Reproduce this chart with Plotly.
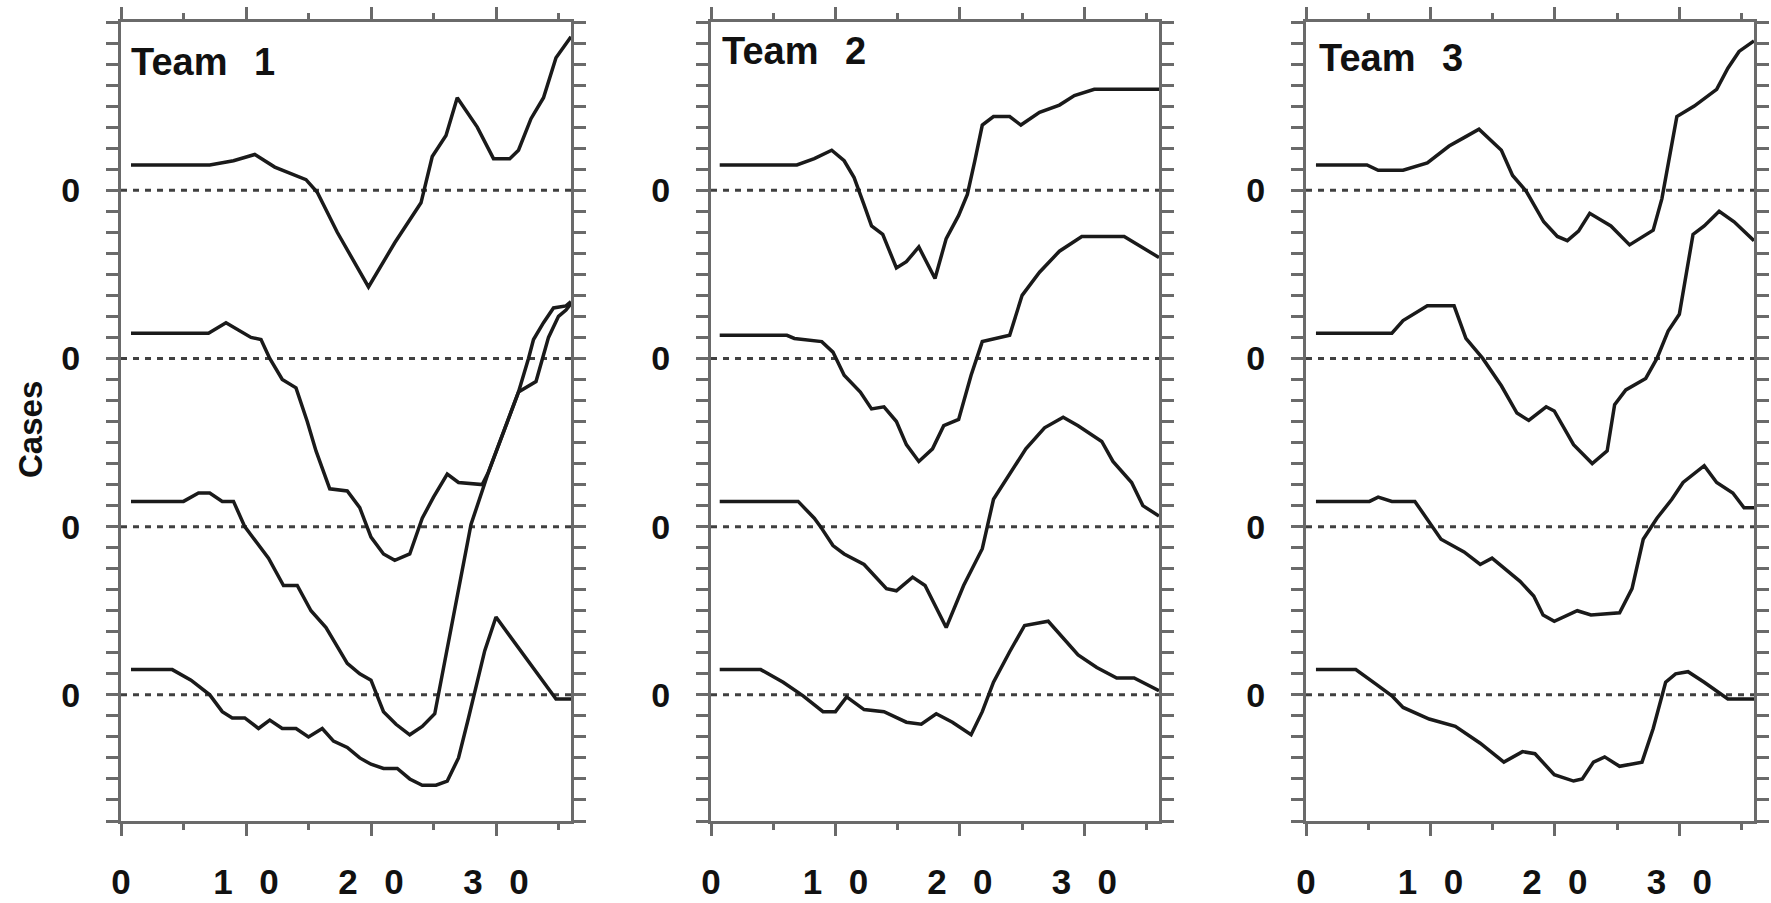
import plotly.graph_objects as go

# ---------------- data ----------------
panel_titles = ["Team\u2002\u20091", "Team\u2002\u20092", "Team\u2002\u20093"]
baselines = [30, 22, 14, 6]          # vertical offsets of the four stacked curves
x_tick_vals = [0, 10, 20, 30]
x_tick_text = ["0", "1\u00a0\u00a0\u20090", "2\u00a0\u00a0\u20090", "3\u00a0\u00a0\u20090"]
y_tick_text = "0"
x_range = [0, 36]
y_range = [0, 38]

# Team 1
t1_c1_x = [0.8, 7.1, 9.0, 10.7, 12.3, 13.9, 14.8, 15.7, 17.3, 19.8, 21.9, 24.0, 24.9, 26.0, 26.9, 28.5, 29.8, 31.1, 31.8, 32.8, 33.8, 34.8, 36.0]
t1_c1_y = [1.2, 1.2, 1.4, 1.7, 1.1, 0.7, 0.5, -0.1, -2.0, -4.6, -2.5, -0.6, 1.6, 2.6, 4.4, 3.0, 1.5, 1.5, 1.9, 3.4, 4.4, 6.3, 7.3]
t1_c2_x = [0.8, 7.0, 8.4, 9.3, 10.4, 11.2, 11.9, 12.9, 14.0, 14.9, 15.6, 16.7, 18.1, 19.1, 20.0, 21.0, 21.9, 23.1, 24.1, 25.0, 26.1, 27.0, 28.9, 29.4, 31.8, 33.2, 33.6, 34.2, 35.0, 35.6, 36.0]
t1_c2_y = [1.2, 1.2, 1.7, 1.4, 1.0, 0.9, 0.0, -1.0, -1.4, -3.0, -4.4, -6.2, -6.3, -7.1, -8.5, -9.3, -9.6, -9.3, -7.6, -6.6, -5.5, -5.9, -6.0, -5.4, -1.6, -1.1, -0.2, 1.0, 2.0, 2.3, 2.6]
t1_c3_x = [0.8, 5.0, 6.2, 7.1, 8.1, 9.0, 9.9, 11.8, 13.0, 14.1, 15.2, 16.4, 17.2, 18.1, 19.1, 20.0, 21.0, 22.0, 23.1, 24.1, 25.1, 28.0, 29.4, 31.8, 32.6, 33.0, 33.8, 34.6, 35.6, 36.0]
t1_c3_y = [1.2, 1.2, 1.6, 1.6, 1.2, 1.2, 0.0, -1.5, -2.8, -2.8, -4.0, -4.8, -5.6, -6.5, -7.0, -7.3, -8.8, -9.4, -9.9, -9.5, -8.9, 0.1, 2.6, 6.4, 8.0, 8.9, 9.7, 10.4, 10.5, 10.7]
t1_c4_x = [0.8, 4.1, 5.6, 7.1, 8.1, 8.9, 9.9, 11.0, 11.9, 12.9, 14.0, 15.0, 16.1, 17.0, 18.1, 19.1, 20.0, 21.0, 22.1, 23.1, 24.1, 25.2, 26.1, 27.0, 27.8, 29.1, 30.0, 34.8, 36.0]
t1_c4_y = [1.2, 1.2, 0.7, 0.0, -0.8, -1.1, -1.1, -1.6, -1.2, -1.6, -1.6, -2.0, -1.6, -2.2, -2.5, -3.0, -3.3, -3.5, -3.5, -4.0, -4.3, -4.3, -4.1, -3.0, -1.1, 2.1, 3.7, -0.2, -0.2]

# Team 2
t2_c1_x = [0.7, 6.9, 8.3, 9.7, 10.7, 11.5, 12.3, 12.9, 13.8, 14.9, 15.7, 16.7, 18.0, 18.9, 19.9, 20.6, 21.2, 21.8, 22.7, 24.0, 24.9, 26.4, 28.0, 29.2, 30.8, 36.0]
t2_c1_y = [1.2, 1.2, 1.5, 1.9, 1.4, 0.6, -0.7, -1.7, -2.1, -3.7, -3.4, -2.7, -4.2, -2.3, -1.2, -0.2, 1.4, 3.1, 3.5, 3.5, 3.1, 3.7, 4.05, 4.5, 4.8, 4.8]
t2_c2_x = [0.7, 6.1, 6.7, 8.9, 9.8, 10.7, 12.0, 12.9, 13.9, 14.9, 15.7, 16.7, 17.8, 18.7, 19.9, 20.9, 21.8, 24.0, 25.0, 26.4, 28.0, 29.8, 33.2, 36.0]
t2_c2_y = [1.1, 1.1, 0.95, 0.8, 0.3, -0.8, -1.6, -2.4, -2.3, -3.0, -4.1, -4.9, -4.3, -3.2, -2.9, -0.8, 0.8, 1.1, 3.0, 4.1, 5.1, 5.8, 5.8, 4.8]
t2_c3_x = [0.7, 7.0, 8.3, 8.8, 9.8, 10.7, 12.3, 14.1, 14.9, 16.2, 17.2, 18.9, 20.3, 21.8, 22.7, 24.3, 25.3, 26.8, 28.3, 29.5, 31.4, 32.3, 33.8, 34.7, 36.0]
t2_c3_y = [1.2, 1.2, 0.4, 0.0, -0.9, -1.3, -1.8, -2.95, -3.05, -2.4, -2.8, -4.8, -2.8, -1.05, 1.3, 2.8, 3.7, 4.7, 5.2, 4.8, 4.05, 3.1, 2.1, 1.0, 0.5]
t2_c4_x = [0.7, 4.0, 5.8, 7.4, 9.0, 10.0, 10.9, 12.3, 13.9, 15.7, 16.9, 18.1, 19.4, 20.9, 21.8, 22.7, 24.0, 25.2, 27.1, 29.5, 31.0, 32.6, 34.0, 36.0]
t2_c4_y = [1.2, 1.2, 0.6, -0.05, -0.8, -0.8, -0.1, -0.7, -0.8, -1.3, -1.4, -0.9, -1.3, -1.9, -0.8, 0.6, 2.05, 3.3, 3.5, 1.9, 1.3, 0.8, 0.8, 0.2]

# Team 3
t3_c1_x = [0.8, 4.9, 5.8, 7.8, 9.75, 11.5, 12.7, 13.9, 15.7, 16.6, 17.7, 19.1, 20.2, 21.0, 21.9, 22.8, 24.5, 26.0, 27.9, 28.6, 29.8, 31.2, 33.0, 33.9, 34.8, 36.0]
t3_c1_y = [1.2, 1.2, 0.95, 0.95, 1.3, 2.1, 2.5, 2.9, 1.9, 0.7, -0.05, -1.5, -2.2, -2.4, -1.95, -1.1, -1.7, -2.6, -1.9, -0.4, 3.5, 4.0, 4.8, 5.8, 6.6, 7.1]
t3_c2_x = [0.8, 6.9, 7.8, 9.75, 11.9, 12.85, 14.2, 15.7, 16.95, 17.9, 19.3, 19.95, 21.5, 23.0, 24.2, 24.8, 25.7, 27.3, 28.2, 29.1, 30.0, 31.1, 32.0, 33.2, 34.4, 36.0]
t3_c2_y = [1.2, 1.2, 1.8, 2.5, 2.5, 0.95, 0.0, -1.3, -2.6, -2.95, -2.3, -2.5, -4.1, -5.0, -4.4, -2.2, -1.5, -0.95, 0.0, 1.3, 2.1, 5.9, 6.3, 7.0, 6.5, 5.6]
t3_c3_x = [0.8, 5.1, 5.8, 6.9, 8.75, 9.9, 10.85, 12.7, 14.0, 14.95, 17.2, 18.3, 19.05, 19.95, 21.8, 22.9, 25.2, 26.2, 27.1, 28.2, 29.4, 30.3, 32.0, 33.0, 34.3, 35.2, 36.0]
t3_c3_y = [1.2, 1.2, 1.4, 1.2, 1.2, 0.2, -0.6, -1.2, -1.8, -1.5, -2.6, -3.3, -4.2, -4.5, -4.0, -4.2, -4.1, -2.95, -0.6, 0.4, 1.3, 2.1, 2.9, 2.1, 1.6, 0.9, 0.9]
t3_c4_x = [0.8, 4.0, 5.65, 6.9, 7.8, 9.9, 12.0, 14.0, 15.9, 17.4, 18.4, 19.95, 21.5, 22.2, 23.1, 24.0, 25.2, 27.0, 27.9, 28.9, 29.7, 30.7, 32.0, 33.9, 36.0]
t3_c4_y = [1.2, 1.2, 0.5, -0.05, -0.6, -1.15, -1.5, -2.3, -3.2, -2.7, -2.8, -3.8, -4.1, -4.0, -3.2, -2.95, -3.4, -3.2, -1.6, 0.6, 1.0, 1.1, 0.6, -0.2, -0.2]

panels = [
    [(t1_c1_x, t1_c1_y), (t1_c2_x, t1_c2_y), (t1_c3_x, t1_c3_y), (t1_c4_x, t1_c4_y)],
    [(t2_c1_x, t2_c1_y), (t2_c2_x, t2_c2_y), (t2_c3_x, t2_c3_y), (t2_c4_x, t2_c4_y)],
    [(t3_c1_x, t3_c1_y), (t3_c2_x, t3_c2_y), (t3_c3_x, t3_c3_y), (t3_c4_x, t3_c4_y)],
]

# ---------------- figure ----------------
W, H = 1771, 903
FONT = "Liberation Sans, Arial, Helvetica, sans-serif"
AXIS_COLOR = "#6a6a6a"
LINE_COLOR = "#1a1a1a"

x_domains = [[121 / W, 571 / W], [711 / W, 1159 / W], [1306 / W, 1754 / W]]
title_pos = [0.6, 0.76, 0.92]
title_y = [37.2, 37.7, 37.4]

fig = go.Figure()
layout = dict(
    width=W, height=H,
    margin=dict(l=0, r=0, t=22, b=82, autoexpand=False),
    paper_bgcolor="white", plot_bgcolor="white",
    showlegend=False,
    annotations=[],
)

for i, curves in enumerate(panels):
    sfx = "" if i == 0 else str(i + 1)
    xa, ya = "x" + sfx, "y" + sfx
    # dotted zero lines
    for b in baselines:
        fig.add_trace(go.Scatter(
            x=x_range, y=[b, b], xaxis=xa, yaxis=ya, mode="lines",
            line=dict(color="#404040", width=3, dash="6px,6px"),
            hoverinfo="skip"))
    # stacked curves
    for b, (cx, cy) in zip(baselines, curves):
        fig.add_trace(go.Scatter(
            x=cx, y=[b + v for v in cy], xaxis=xa, yaxis=ya, mode="lines",
            line=dict(color=LINE_COLOR, width=3.5)))

    layout["xaxis" + sfx] = dict(
        domain=x_domains[i], anchor=ya, range=x_range, automargin=False,
        showline=True, linecolor=AXIS_COLOR, linewidth=3, mirror="ticks",
        showgrid=False, zeroline=False,
        tickmode="array", tickvals=x_tick_vals, ticktext=x_tick_text,
        ticks="outside", ticklen=12, tickwidth=2.5, tickcolor=AXIS_COLOR,
        ticklabelstandoff=16,
        minor=dict(tickmode="linear", tick0=0, dtick=5, ticks="outside",
                   ticklen=6, tickwidth=2.5, tickcolor=AXIS_COLOR),
        tickfont=dict(family=FONT, size=35, color="#111111", weight="bold"),
    )
    layout["yaxis" + sfx] = dict(
        domain=[0, 1], anchor=xa, range=y_range, automargin=False,
        showline=True, linecolor=AXIS_COLOR, linewidth=3, mirror="ticks",
        showgrid=False, zeroline=False,
        tickmode="array", tickvals=baselines, ticktext=[y_tick_text] * len(baselines),
        ticks="outside", ticklen=12, tickwidth=3, tickcolor=AXIS_COLOR,
        ticklabelstandoff=19,
        minor=dict(tickmode="linear", tick0=0, dtick=1, ticks="outside",
                   ticklen=12, tickwidth=3, tickcolor=AXIS_COLOR),
        tickfont=dict(family=FONT, size=34, color="#111111", weight="bold"),
    )
    layout["annotations"].append(dict(
        text=panel_titles[i], xref=xa, yref=ya, x=title_pos[i], y=title_y[i],
        xanchor="left", yanchor="top", showarrow=False,
        font=dict(family=FONT, size=38, color="#111111", weight="bold")))

layout["annotations"].append(dict(
    text="Cases", xref="paper", yref="paper", x=30 / W, y=(821 - 429) / 799,
    xanchor="center", yanchor="middle", textangle=-90, showarrow=False,
    font=dict(family=FONT, size=33, color="#111111", weight="bold")))

fig.update_layout(**layout)
fig.write_html(
    "out.html",
    config={"displayModeBar": False},
    post_script="document.body.style.margin='0px';document.body.style.overflow='hidden';",
)
